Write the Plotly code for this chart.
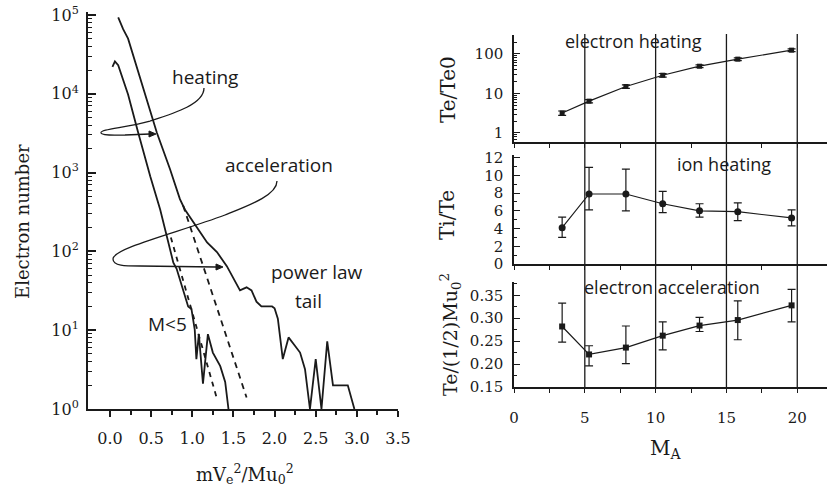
import plotly.graph_objects as go

W, H = 827, 493
INK = "#1a1a1a"
SERIF = "DejaVu Serif"
SANS = "Open Sans"

# ---------------- left panel: electron energy spectra ----------------
energy_heat = [0.10, 0.16, 0.22, 0.34, 0.46, 0.57, 0.73, 0.85, 0.91, 0.97, 1.07, 1.18,
               1.30, 1.42, 1.58, 1.66, 1.72, 1.78, 1.84, 1.97, 2.00, 2.04, 2.10, 2.17,
               2.25, 2.31, 2.37, 2.43, 2.50, 2.57, 2.64, 2.71, 2.89, 2.97]
count_heat = [93000, 66000, 50000, 19000, 7200, 3200, 1100, 460, 340, 275, 190, 130,
              98, 65, 32, 35, 32, 23, 20, 20, 19, 14, 4.3, 8.1,
              6.3, 5.2, 3.2, 1, 4.3, 1, 7.2, 2, 2, 1]

energy_m5 = [0.03, 0.06, 0.10, 0.22, 0.34, 0.49, 0.61, 0.69, 0.77, 0.81, 0.89, 0.95,
             0.99, 1.03, 1.05, 1.08, 1.13, 1.19, 1.25, 1.34, 1.40, 1.44]
count_m5 = [22000, 25700, 23000, 9800, 3300, 890, 340, 155, 72, 60, 33, 20,
            18.6, 10.2, 4.3, 8.9, 2.1, 8.9, 5.2, 3.5, 2.2, 1]

fit_heat_energy = [0.89, 1.66]
fit_heat_count = [380, 1.4]
fit_m5_energy = [0.74, 1.30]
fit_m5_count = [150, 1.35]

energy_ticks = [0.0, 0.5, 1.0, 1.5, 2.0, 2.5, 3.0, 3.5]
count_ticks = [1, 10, 100, 1000, 10000, 100000]
count_tick_labels = ["10<sup>0</sup>", "10<sup>1</sup>", "10<sup>2</sup>",
                     "10<sup>3</sup>", "10<sup>4</sup>", "10<sup>5</sup>"]

# ---------------- right panels: versus Alfven Mach number ----------------
mach = [3.4, 5.3, 7.9, 10.5, 13.1, 15.8, 19.6]
te_te0 = [3.2, 6.4, 15, 29, 49, 74, 125]
te_te0_err = [0.4, 0.6, 1.5, 3, 4, 6, 10]
ti_te = [4.1, 7.9, 7.9, 6.8, 6.0, 5.9, 5.2]
ti_te_hi = [5.3, 10.9, 10.7, 8.2, 6.8, 6.9, 6.1]
ti_te_lo = [3.0, 6.1, 6.0, 5.8, 5.3, 4.9, 4.3]
te_kin = [0.282, 0.221, 0.236, 0.262, 0.284, 0.296, 0.328]
te_kin_hi = [0.333, 0.240, 0.283, 0.292, 0.302, 0.338, 0.363]
te_kin_lo = [0.248, 0.196, 0.201, 0.231, 0.271, 0.253, 0.292]
mach_ticks = [0, 5, 10, 15, 20]
mach_grid = [5, 10, 15, 20]


def fx(p):
    return p / W


def fy(p):
    return 1 - p / H


fig = go.Figure()

line_left = dict(color=INK, width=1.8)
fig.add_trace(go.Scatter(x=energy_heat, y=count_heat, mode="lines", line=line_left,
                         xaxis="x", yaxis="y", showlegend=False))
fig.add_trace(go.Scatter(x=energy_m5, y=count_m5, mode="lines", line=line_left,
                         xaxis="x", yaxis="y", showlegend=False))
fig.add_trace(go.Scatter(x=fit_heat_energy, y=fit_heat_count, mode="lines",
                         line=dict(color=INK, width=1.8, dash="6px,5px"),
                         xaxis="x", yaxis="y", showlegend=False))
fig.add_trace(go.Scatter(x=fit_m5_energy, y=fit_m5_count, mode="lines",
                         line=dict(color=INK, width=1.8, dash="5px,5px"),
                         xaxis="x", yaxis="y", showlegend=False))

line_right = dict(color=INK, width=1.2)
err_style = dict(color=INK, thickness=1.2, width=4)
fig.add_trace(go.Scatter(x=mach, y=te_te0, mode="lines+markers", line=line_right,
                         marker=dict(symbol="square", size=5, color=INK),
                         error_y=dict(type="data", array=te_te0_err, **err_style),
                         xaxis="x2", yaxis="y2", showlegend=False))
fig.add_trace(go.Scatter(x=mach, y=ti_te, mode="lines+markers", line=line_right,
                         marker=dict(symbol="circle", size=7, color=INK),
                         error_y=dict(type="data",
                                      array=[h - v for h, v in zip(ti_te_hi, ti_te)],
                                      arrayminus=[v - l for v, l in zip(ti_te, ti_te_lo)],
                                      **err_style),
                         xaxis="x3", yaxis="y3", showlegend=False))
fig.add_trace(go.Scatter(x=mach, y=te_kin, mode="lines+markers", line=line_right,
                         marker=dict(symbol="square", size=6, color=INK),
                         error_y=dict(type="data",
                                      array=[h - v for h, v in zip(te_kin_hi, te_kin)],
                                      arrayminus=[v - l for v, l in zip(te_kin, te_kin_lo)],
                                      **err_style),
                         xaxis="x4", yaxis="y4", showlegend=False))

axis_common = dict(showline=True, linecolor=INK, tickcolor=INK, showgrid=False,
                   zeroline=False, automargin=False)

minor_energy = [0.25 + 0.5 * i for i in range(7)]
minor_count = [k * 10 ** d for d in range(5) for k in range(2, 10)]

layout = dict(
    width=W, height=H, margin=dict(l=0, r=0, t=0, b=0, autoexpand=False),
    paper_bgcolor="white", plot_bgcolor="white",
    xaxis=dict(domain=[fx(88), fx(398)], range=[-0.267, 3.5], anchor="y",
               linewidth=2, ticks="outside", ticklen=6, tickwidth=1.6,
               tickvals=energy_ticks, ticktext=[f"{v:.1f}" for v in energy_ticks],
               minor=dict(tickvals=minor_energy, ticks="outside", ticklen=4,
                          tickwidth=1.6, tickcolor=INK),
               tickfont=dict(family=SERIF, size=16, color=INK),
               ticklabelstandoff=8, **axis_common),
    yaxis=dict(domain=[fy(409), fy(11.8)], type="log", range=[0, 5.04], anchor="x",
               linewidth=2, ticks="inside", ticklen=8, tickwidth=1.6,
               tickvals=count_ticks, ticktext=count_tick_labels,
               minor=dict(tickvals=minor_count, ticks="inside", ticklen=4,
                          tickwidth=1.2, tickcolor=INK),
               tickfont=dict(family=SERIF, size=16, color=INK),
               ticklabelstandoff=4, **axis_common),
)

panels = [
    ("2", fy(142), fy(35)),
    ("3", fy(264), fy(155)),
    ("4", fy(387), fy(282)),
]
for k, y0, y1 in panels:
    xa = dict(domain=[fx(514), 1.0], range=[0, 22.1], anchor="y" + k,
              linewidth=1.5, ticks="outside", ticklen=4, tickwidth=1.3,
              tickvals=mach_ticks,
              minor=dict(tickvals=[2.5, 7.5, 12.5, 17.5], ticks="outside", ticklen=4,
                         tickwidth=1.3, tickcolor=INK),
              tickfont=dict(family=SERIF, size=15, color=INK),
              **axis_common)
    if k != "4":
        xa["matches"] = "x4"
        xa["showticklabels"] = False
    else:
        xa["ticklabelstandoff"] = 12
    layout["xaxis" + k] = xa

layout["yaxis2"] = dict(domain=[panels[0][1], panels[0][2]], type="log",
                        range=[-0.228, 2.48], anchor="x2", linewidth=1.5,
                        ticks="inside", ticklen=6, tickwidth=1.3,
                        tickvals=[1, 10, 100], ticktext=["1", "10", "100"],
                        minor=dict(tickvals=[k * 10 ** d for d in range(-1, 3)
                                             for k in range(2, 10)],
                                   ticks="inside", ticklen=3, tickwidth=1, tickcolor=INK),
                        tickfont=dict(family=SERIF, size=15, color=INK),
                        ticklabelstandoff=6, **axis_common)
layout["yaxis3"] = dict(domain=[panels[1][1], panels[1][2]], range=[0, 12.3],
                        anchor="x3", linewidth=1.5, ticks="inside", ticklen=6,
                        tickwidth=1.3, tickvals=[0, 2, 4, 6, 8, 10, 12],
                        minor=dict(tickvals=[1, 3, 5, 7, 9, 11], ticks="inside",
                                   ticklen=3, tickwidth=1, tickcolor=INK),
                        tickfont=dict(family=SERIF, size=15, color=INK),
                        ticklabelstandoff=6, **axis_common)
layout["yaxis4"] = dict(domain=[panels[2][1], panels[2][2]], range=[0.15, 0.379],
                        anchor="x4", linewidth=1.5, ticks="inside", ticklen=6,
                        tickwidth=1.3, tickvals=[0.15, 0.20, 0.25, 0.30, 0.35],
                        ticktext=["0.15", "0.20", "0.25", "0.30", "0.35"],
                        minor=dict(tickvals=[0.175, 0.225, 0.275, 0.325, 0.375],
                                   ticks="inside", ticklen=3, tickwidth=1, tickcolor=INK),
                        tickfont=dict(family=SERIF, size=15, color=INK),
                        ticklabelstandoff=6, **axis_common)

fig.update_layout(**layout)

# vertical reference lines through all three right panels
for v in mach_grid:
    fig.add_shape(type="line", xref="x4", yref="paper", x0=v, x1=v,
                  y0=fy(387), y1=fy(34), line=dict(color=INK, width=1.3), layer="below")


def path_px(cmds):
    out = []
    for c in cmds:
        if isinstance(c, str):
            out.append(c)
        else:
            out.append(f"{fx(c[0]):.5f},{fy(c[1]):.5f}")
    return " ".join(out)


# curly annotation arrows (left panel)
heat_curve = path_px(["M", (204, 88), "C", (204, 104), (175, 113), (150, 121),
                      "C", (125, 128), (100, 129), (101, 133),
                      "C", (102, 136), (115, 135), (125, 135), "L", (150, 134)])
acc_curve = path_px(["M", (277, 181), "C", (277, 195), (250, 205), (225, 215),
                     "C", (180, 232), (113, 248), (113, 259),
                     "C", (113, 266), (125, 266), (140, 266), "L", (216, 267)])
for p in (heat_curve, acc_curve):
    fig.add_shape(type="path", xref="paper", yref="paper", path=p,
                  line=dict(color=INK, width=1.3))
for tip in ((156, 134), (223, 267)):
    head = path_px(["M", (tip[0] - 7, tip[1] - 3), "L", tip,
                    "L", (tip[0] - 7, tip[1] + 3), "Z"])
    fig.add_shape(type="path", xref="paper", yref="paper", path=head,
                  line=dict(color=INK, width=1), fillcolor=INK)


def label(text, x, y, family=SANS, size=19, angle=0):
    fig.add_annotation(text=text, x=fx(x), y=fy(y), xref="paper", yref="paper",
                       showarrow=False, xanchor="center", yanchor="middle",
                       textangle=angle, font=dict(family=family, size=size, color=INK))


label("heating", 205, 77)
label("acceleration", 279, 165)
label("power law", 317, 272)
label("tail", 308, 301)
label("M&lt;5", 167, 324)
label("electron heating", 633, 41, size=18)
label("ion heating", 724, 164, size=18)
label("electron acceleration", 672, 287, size=18)

label("Electron number", 22, 222, family=SERIF, size=18, angle=-90)
label("mV<sub>e</sub><sup>2</sup>/Mu<sub>0</sub><sup>2</sup>", 245, 474, family=SERIF, size=18)
label("Te/Te0", 448, 90, family=SERIF, size=20, angle=-90)
label("Ti/Te", 447, 215, family=SERIF, size=20, angle=-90)
label("Te/(1/2)Mu<sub>0</sub><sup>2</sup>", 450, 335, family=SERIF, size=19, angle=-90)
label("M<sub>A</sub>", 665, 449, family=SERIF, size=20)

fig.write_html("out.html")
